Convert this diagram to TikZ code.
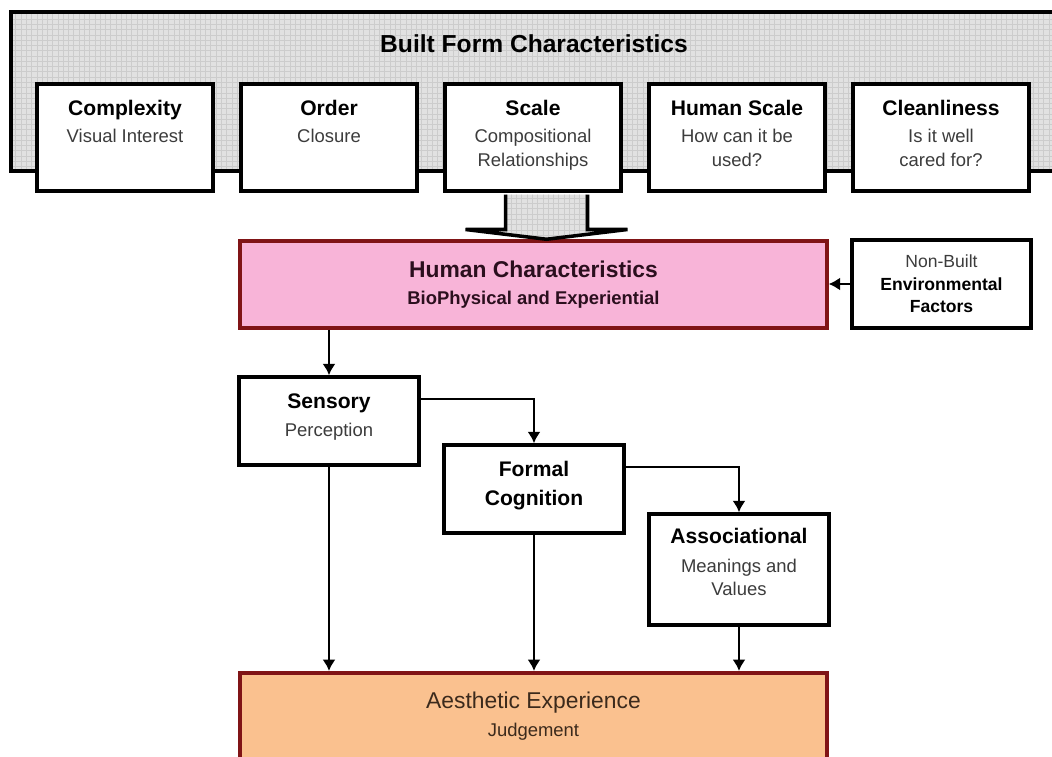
\documentclass[tikz,border=0pt]{standalone}
\usepackage{fontspec}
\setmainfont{Liberation Sans}
\usepackage{xcolor}
\usepackage{tikz}
\usetikzlibrary{arrows.meta, positioning, calc, patterns}
\definecolor{formgrey}{HTML}{E1E1E1}
\definecolor{formgrid}{HTML}{CCCCCC}
\definecolor{humanpink}{HTML}{F8B4D8}
\definecolor{aesthorange}{HTML}{FAC18F}
\definecolor{boxred}{HTML}{801416}
\definecolor{subgrey}{HTML}{3C3C3C}
\definecolor{humantext}{HTML}{2B0F1E}
\definecolor{aesthtext}{HTML}{3B2A1C}
\newcommand{\toptext}[4][0.33cm]{\parbox[t][#3][t]{#2}{\centering\vspace*{#1}#4}}
\newcommand{\ttl}{\fontsize{12}{14}\selectfont\bfseries}

\begin{document}
\begin{tikzpicture}[x=0.02cm, y=-0.02cm,
    formbox/.style={draw=black, line width=2pt, fill=white, inner sep=0pt,
      minimum width=3.52cm, minimum height=2.14cm, font=\fontsize{10.5}{13.6}\selectfont},
    stepbox/.style={formbox, minimum width=3.6cm, minimum height=1.76cm},
    redbox/.style={draw=boxred, line width=2pt, minimum width=11.74cm},
    gridfill/.style={line width=2pt, preaction={fill=formgrey}, pattern=grid, pattern color=formgrid},
    arr/.style={line width=1.3pt, -{Latex[length=6.5pt,width=7.5pt]}}]
  \useasboundingbox (0,0) rectangle (1052,757);
  \clip (0,0) rectangle (1052,757);

  % built form characteristics
  \draw[gridfill] (11,12) rectangle (1070,171);
  \node[font=\fontsize{14}{16}\selectfont\bfseries] (bftitle) at (534,44) {Built Form Characteristics};
  \node[formbox] (cplx) at (125,137.5)
    {\toptext{3.4cm}{2.14cm}{{\ttl Complexity}\\[1.5pt]{\color{subgrey}Visual Interest}}};
  \node[formbox] (order) at (329,137.5)
    {\toptext{3.4cm}{2.14cm}{{\ttl Order}\\[1.5pt]{\color{subgrey}Closure}}};
  \node[formbox] (scale) at (533,137.5)
    {\toptext{3.4cm}{2.14cm}{{\ttl Scale}\\[1.5pt]{\color{subgrey}Compositional\\Relationships}}};
  \node[formbox] (hscale) at (737,137.5)
    {\toptext{3.4cm}{2.14cm}{{\ttl Human Scale}\\[1.5pt]{\color{subgrey}How can it be\\used?}}};
  \node[formbox] (clean) at (941,137.5)
    {\toptext{3.4cm}{2.14cm}{{\ttl Cleanliness}\\[1.5pt]{\color{subgrey}Is it well\\cared for?}}};

  % human characteristics
  \node[redbox, fill=humanpink, minimum height=1.74cm, align=center, text=humantext,
    font=\fontsize{10.5}{13}\selectfont\bfseries] (human) at (533.5,284.5)
    {{\fontsize{13}{15}\selectfont Human Characteristics}\\[2pt]BioPhysical and Experiential};
  \node[draw, line width=2pt, fill=white, minimum width=3.58cm, minimum height=1.76cm,
    align=center, font=\fontsize{10}{12.8}\selectfont] (nonbuilt) at (941.5,284)
    {{\color{subgrey}Non-Built}\\\textbf{Environmental}\\\textbf{Factors}};

  \coordinate (bigtop) at ([xshift=0.27cm, yshift=-1pt]scale.south);
  \draw[gridfill, line join=miter]
    ([xshift=-0.82cm]bigtop) -- ++(0,-0.7cm) -- ++(-0.8cm,0) -- (bigtop |- human.north)
    -- ([shift={(1.62cm,-0.7cm)}]bigtop) -- ++(-0.8cm,0) -- ([xshift=0.82cm]bigtop);

  % experience steps
  \node[stepbox] (sens) at (329,421)
    {\toptext{3.4cm}{1.76cm}{{\ttl Sensory}\\[2.5pt]{\color{subgrey}Perception}}};
  \node[stepbox] (form) at (534,489)
    {\toptext{3.4cm}{1.76cm}{{\ttl Formal\\[3pt]Cognition}}};
  \node[stepbox, minimum height=2.22cm] (assoc) at (739,569.5)
    {\toptext[0.29cm]{3.4cm}{2.22cm}{{\ttl Associational}\\[2.5pt]{\color{subgrey}Meanings and\\Values}}};

  \node[redbox, fill=aesthorange, inner sep=0pt, minimum height=3cm, anchor=north, text=aesthtext,
    font=\fontsize{10.5}{14}\selectfont] (aesth) at (533.5,671)
    {\toptext[0.39cm]{8cm}{3cm}{{\fontsize{13}{15}\selectfont Aesthetic Experience}\\[1.5pt]Judgement}};

  \draw[arr] (nonbuilt.west) -- (nonbuilt.west -| human.east);
  \draw[arr] (sens.north |- human.south) -- (sens.north);
  \draw[arr] ([yshift=0.44cm]sens.east) -| (form.north);
  \draw[arr] ([yshift=0.44cm]form.east) -| (assoc.north);
  \foreach \n in {sens, form, assoc}
    \draw[arr] (\n.south) -- (\n.south |- aesth.north);
\end{tikzpicture}
\end{document}
